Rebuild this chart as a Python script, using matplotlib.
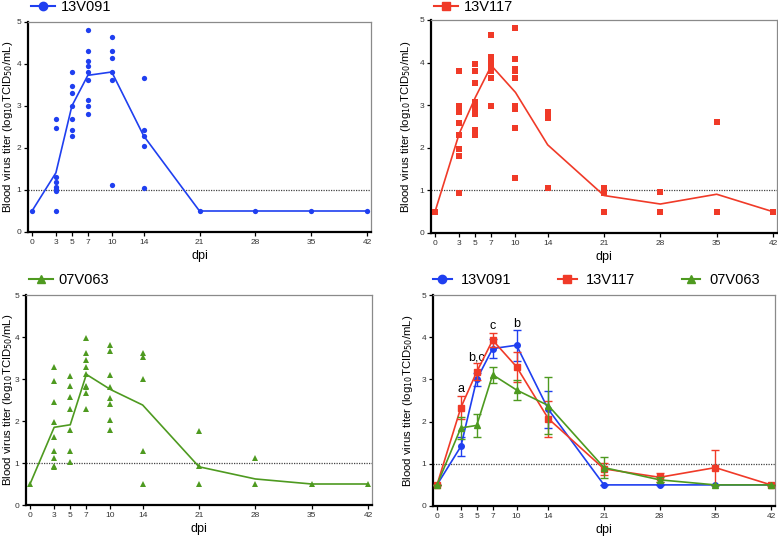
import matplotlib
matplotlib.use("Agg")
import matplotlib.pyplot as plt
from matplotlib.lines import Line2D

plt.rcParams['font.family'] = ['Liberation Sans', 'DejaVu Sans']

days = [0, 3, 5, 7, 10, 14, 21, 28, 35, 42]
day_labels = ["0", "3", "5", "7", "10", "14", "21", "28", "35", "42"]

# individual titers per day (log10 TCID50/mL)
pts_13V091 = [
    [0.5],
    [2.70, 2.47, 1.30, 1.19, 1.06, 1.02, 0.97, 0.5],
    [3.80, 3.47, 3.30, 3.00, 2.70, 2.43, 2.29],
    [4.81, 4.31, 4.08, 3.96, 3.80, 3.63, 3.14, 3.00, 2.80],
    [4.64, 4.31, 4.14, 3.80, 3.63, 1.12],
    [3.67, 2.43, 2.29, 2.05, 1.04],
    [0.5], [0.5], [0.5], [0.5],
]
pts_13V117 = [
    [0.5],
    [3.80, 2.97, 2.84, 2.59, 2.30, 1.97, 1.80, 0.93],
    [3.97, 3.80, 3.53, 3.08, 2.94, 2.80, 2.41, 2.35, 2.30],
    [4.64, 4.14, 3.98, 3.93, 3.80, 3.64, 2.97],
    [4.81, 4.08, 3.84, 3.80, 3.64, 2.97, 2.90, 2.47, 1.30],
    [2.83, 2.78, 2.73, 2.69, 1.05],
    [1.05, 0.93, 0.5],
    [0.97, 0.5],
    [2.60, 0.5],
    [0.5],
]
pts_07V063 = [
    [0.5],
    [3.29, 2.96, 2.46, 1.98, 1.63, 1.28, 1.11, 0.94, 0.90],
    [3.07, 2.83, 2.57, 2.29, 1.78, 1.28, 1.02],
    [3.97, 3.62, 3.45, 3.29, 3.12, 2.84, 2.80, 2.67, 2.28],
    [3.80, 3.67, 3.09, 2.81, 2.54, 2.41, 2.03, 1.79],
    [3.63, 3.52, 3.00, 1.28, 0.5],
    [1.76, 0.93, 0.5],
    [1.11, 0.5],
    [0.5],
    [0.5],
]

mean_13V091 = [0.5, 1.41, 3.00, 3.73, 3.81, 2.29, 0.5, 0.5, 0.5, 0.5]
mean_13V117 = [0.5, 2.33, 3.18, 3.93, 3.30, 2.07, 0.88, 0.68, 0.91, 0.5]
mean_07V063 = [0.5, 1.85, 1.91, 3.11, 2.75, 2.38, 0.91, 0.62, 0.5, 0.5]

sem_13V091 = [0, 0.23, 0.16, 0.23, 0.37, 0.43, 0, 0, 0, 0]
sem_13V117 = [0, 0.27, 0.20, 0.16, 0.35, 0.43, 0.14, 0.10, 0.42, 0]
sem_07V063 = [0, 0.27, 0.27, 0.19, 0.24, 0.67, 0.24, 0.06, 0, 0]

sig_days = [3, 5, 7, 10]
sig_labels = ["a", "b,c", "c", "b"]
sig_y = [2.77, 3.51, 4.26, 4.32]

strains = ["13V091", "13V117", "07V063"]
colors = ["#1f3ff0", "#f03a28", "#4e9a20"]
markers = ["o", "s", "^"]
msizes = [3.8, 3.8, 4.0]

W, H = 778, 537
fig = plt.figure(figsize=(W / 100, H / 100), dpi=100)


def make_ax(l, r, t, b):
    return fig.add_axes([l / W, 1 - b / H, (r - l) / W, (b - t) / H])


def style(ax, ylab_x):
    ax.set_xlim(-0.5, 42.5)
    ax.set_ylim(0, 5)
    ax.set_xticks(days)
    ax.set_xticklabels(day_labels)
    ax.set_yticks(range(6))
    for s in ["left", "bottom"]:
        ax.spines[s].set_linewidth(1.6)
        ax.spines[s].set_color("black")
    for s in ["top", "right"]:
        ax.spines[s].set_linewidth(0.9)
        ax.spines[s].set_color("#8a8a8a")
    ax.tick_params(direction="out", length=3, width=0.9, labelsize=6,
                   colors="black", labelcolor="#333333", pad=2)
    ax.axhline(1, color="#444444", linestyle=(0, (1, 1)), linewidth=0.9, zorder=1)
    ax.set_xlabel("dpi", fontsize=9, labelpad=3)
    ax.set_ylabel("Blood virus titer (log$_{10}$TCID$_{50}$/mL)", fontsize=8.2)
    ax.yaxis.set_label_coords(ylab_x, 0.5)


boxes = [
    (28, 371, 22, 232),
    (431, 777, 20, 233),
    (26, 372, 295, 505),
    (433, 775, 295, 506),
]
ylab_xs = [-0.037, -0.052, -0.033, -0.053]
leg_ys = [1.07, 1.06, 1.071, 1.071]
pts_all = [pts_13V091, pts_13V117, pts_07V063]
means_all = [mean_13V091, mean_13V117, mean_07V063]
sems_all = [sem_13V091, sem_13V117, sem_07V063]

for i in range(3):
    ax = make_ax(*boxes[i])
    style(ax, ylab_xs[i])
    xs, ys = [], []
    for d, vals in zip(days, pts_all[i]):
        xs += [d] * len(vals)
        ys += vals
    ax.plot(xs, ys, linestyle="none", marker=markers[i], color=colors[i],
            markersize=msizes[i], markeredgewidth=0, zorder=3, clip_on=False)
    ax.plot(days, means_all[i], color=colors[i], linewidth=1.2, zorder=2)
    handle = Line2D([], [], color=colors[i], marker=markers[i], markersize=6,
                    linewidth=1.5)
    ax.legend([handle], [strains[i]], loc="center left", frameon=False,
              bbox_to_anchor=(0.01, leg_ys[i]), borderpad=0, borderaxespad=0,
              handlelength=1.6, handletextpad=0.4, fontsize=10.5)

ax = make_ax(*boxes[3])
style(ax, ylab_xs[3])
handles = []
for i in [0, 2, 1]:
    ax.errorbar(days, means_all[i], yerr=sems_all[i], color=colors[i],
                marker=markers[i], markersize=4.0, linewidth=1.2,
                elinewidth=1.0, capsize=3, capthick=1.0, zorder=3 + i,
                clip_on=False)
for i in range(3):
    handles.append(Line2D([], [], color=colors[i], marker=markers[i],
                          markersize=6, linewidth=1.5))
ax.legend(handles, strains, loc="center left", frameon=False, ncol=3,
          bbox_to_anchor=(0.0, leg_ys[3]), borderpad=0, borderaxespad=0,
          handlelength=1.3, handletextpad=0.6, columnspacing=3.2, fontsize=10.5)
for d, lab, y in zip(sig_days, sig_labels, sig_y):
    ax.text(d, y, lab, ha="center", va="center", fontsize=9)

fig.savefig("out.png", dpi=100)
